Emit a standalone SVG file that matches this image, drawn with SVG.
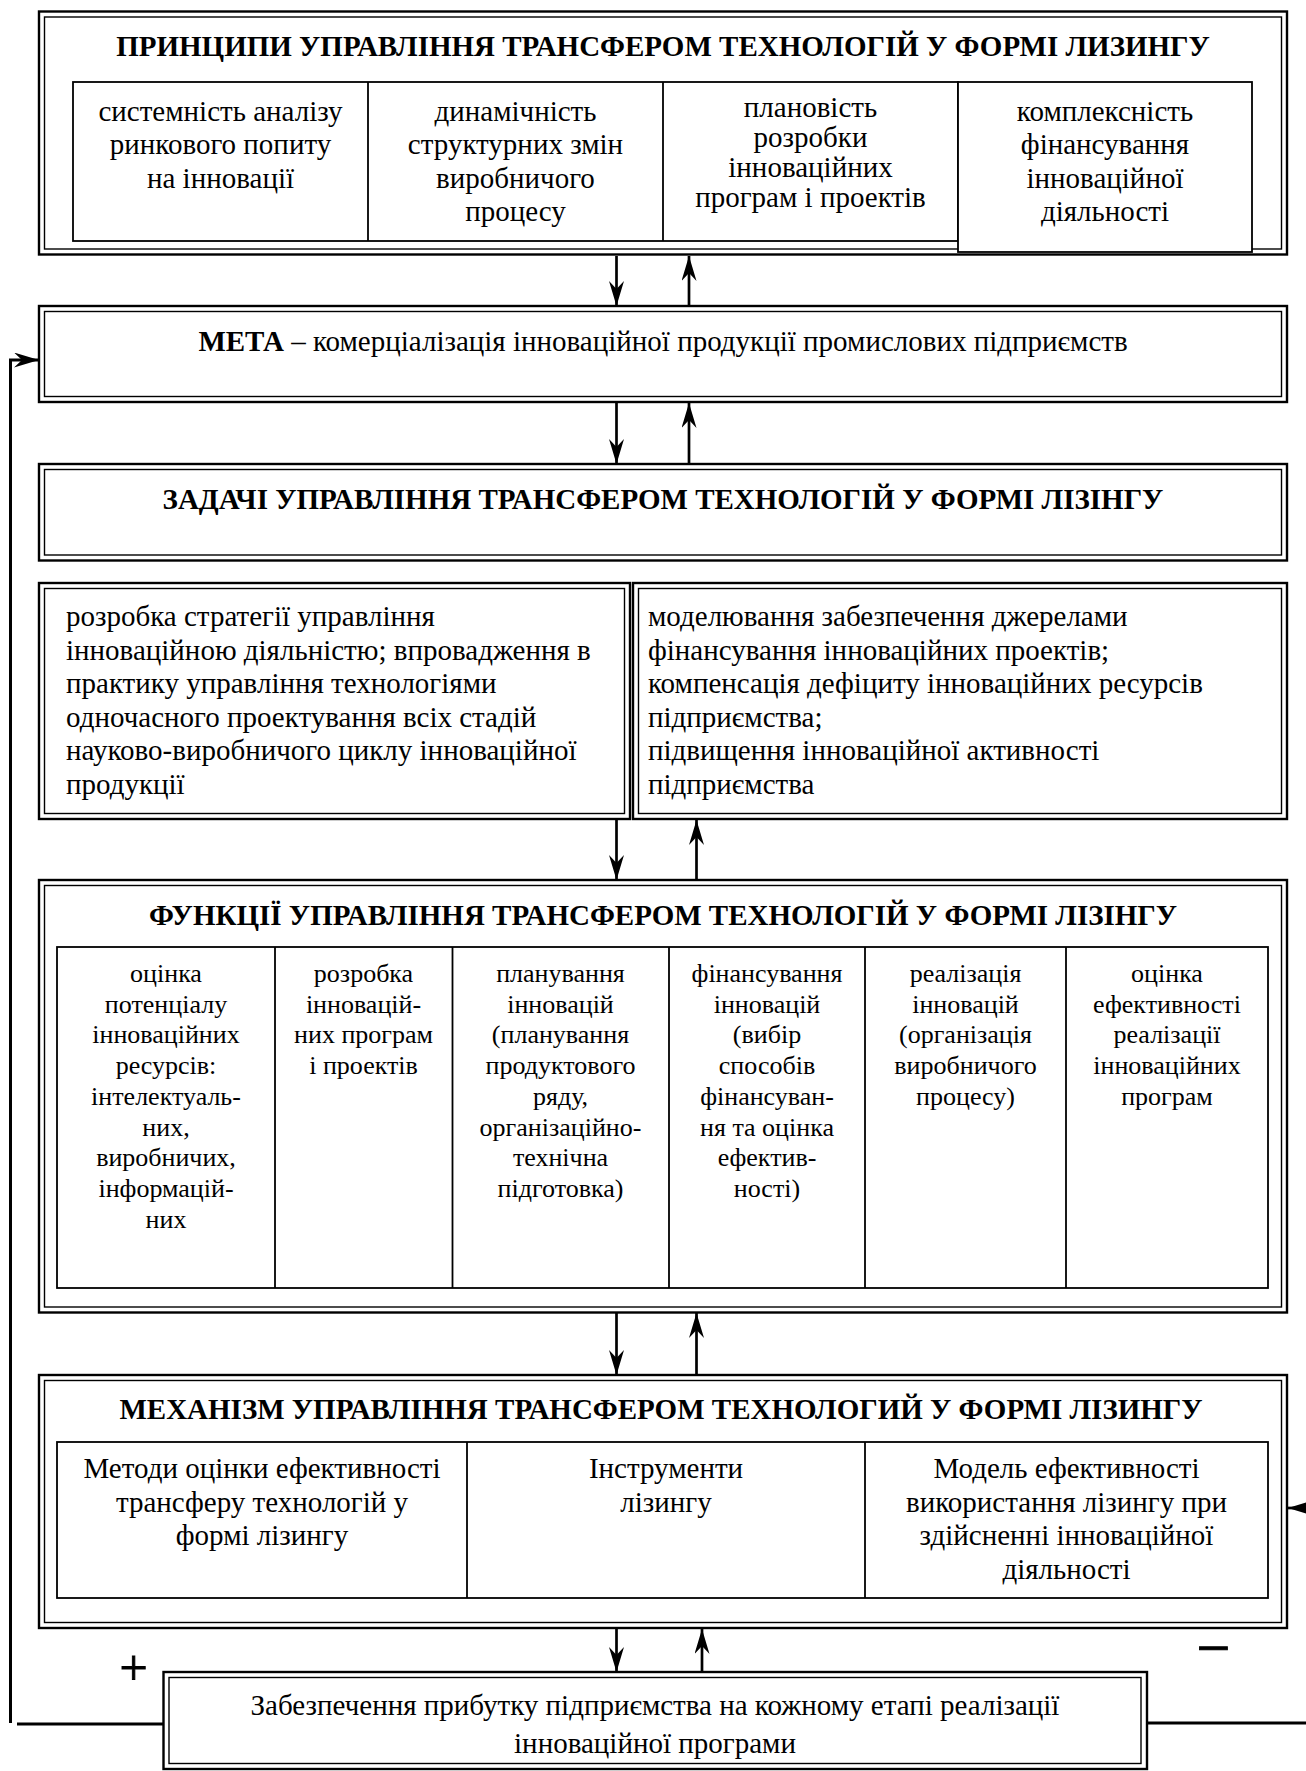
<svg xmlns="http://www.w3.org/2000/svg" width="1306" height="1771" viewBox="0 0 1306 1771">
<style>
.t{font-family:"Liberation Serif","Times New Roman",serif;font-size:29px;fill:#000}
.b{font-weight:bold}
.c{text-anchor:middle}
.s{font-size:26px}
.o{fill:#fff;stroke:#000;stroke-width:2.4}
.i{fill:none;stroke:#000;stroke-width:1.4}
.cell{fill:none;stroke:#000;stroke-width:1.8}
.cellw{fill:#fff;stroke:#000;stroke-width:1.8}
.ln{stroke:#000;stroke-width:1.8}
.con{stroke:#000;stroke-width:2.7;fill:none}
.sign{stroke:#000;stroke-width:0.9}
</style>
<defs>
<marker id="ah" viewBox="0 0 25 15" refX="25" refY="7.5" markerWidth="25" markerHeight="15" markerUnits="userSpaceOnUse" orient="auto">
<path d="M0,0 L25,7.5 L0,15 L8,7.5 Z" fill="#000"/>
</marker>
</defs>
<rect width="1306" height="1771" fill="#fff"/>

<g id="connectors">
<line class="con" x1="616.5" y1="256" x2="616.5" y2="306" marker-end="url(#ah)"/>
<line class="con" x1="689" y1="306" x2="689" y2="256" marker-end="url(#ah)"/>
<line class="con" x1="616.5" y1="403" x2="616.5" y2="464" marker-end="url(#ah)"/>
<line class="con" x1="689" y1="464" x2="689" y2="403" marker-end="url(#ah)"/>
<line class="con" x1="616.5" y1="820" x2="616.5" y2="880" marker-end="url(#ah)"/>
<line class="con" x1="696.5" y1="880" x2="696.5" y2="820" marker-end="url(#ah)"/>
<line class="con" x1="616.5" y1="1313" x2="616.5" y2="1375" marker-end="url(#ah)"/>
<line class="con" x1="696.5" y1="1375" x2="696.5" y2="1313" marker-end="url(#ah)"/>
<line class="con" x1="616.5" y1="1629" x2="616.5" y2="1672" marker-end="url(#ah)"/>
<line class="con" x1="702" y1="1672" x2="702" y2="1629" marker-end="url(#ah)"/>
<polyline class="con" style="stroke-width:3" points="10.5,1723 10.5,360 39,360" marker-end="url(#ah)"/>
<line class="con" style="stroke-width:3" x1="17" y1="1724" x2="163.5" y2="1724"/>
<line class="con" style="stroke-width:3" x1="1147" y1="1723" x2="1306" y2="1723"/>
<line class="con" x1="1306" y1="1508" x2="1288" y2="1508" marker-end="url(#ah)"/>
<text class="t sign" x="133.5" y="1684.5" text-anchor="middle" style="font-size:50px">+</text>
<text class="t sign" x="1213.5" y="1668" text-anchor="middle" style="font-size:60px">−</text>
</g>

<g id="principles">
<rect class="o" x="39" y="11.5" width="1248" height="243"/>
<rect class="i" x="44.5" y="17" width="1237" height="232"/>
<text class="t b c" x="663" y="56">ПРИНЦИПИ УПРАВЛІННЯ ТРАНСФЕРОМ ТЕХНОЛОГІЙ У ФОРМІ ЛИЗИНГУ</text>
<rect class="cell" x="73" y="82" width="885" height="159"/>
<line class="ln" x1="368" y1="82" x2="368" y2="241"/>
<line class="ln" x1="663" y1="82" x2="663" y2="241"/>
<rect class="cellw" x="958" y="82" width="294" height="170"/>
<text class="t c" x="220.5" y="120.5">системність аналізу</text>
<text class="t c" x="220.5" y="154">ринкового попиту</text>
<text class="t c" x="220.5" y="187.5">на інновації</text>
<text class="t c" x="515.5" y="120.5">динамічність</text>
<text class="t c" x="515.5" y="154">структурних змін</text>
<text class="t c" x="515.5" y="187.5">виробничого</text>
<text class="t c" x="515.5" y="221">процесу</text>
<text class="t c" x="810.5" y="116.5">плановість</text>
<text class="t c" x="810.5" y="146.5">розробки</text>
<text class="t c" x="810.5" y="176.5">інноваційних</text>
<text class="t c" x="810.5" y="206.5">програм і проектів</text>
<text class="t c" x="1105" y="120.5">комплексність</text>
<text class="t c" x="1105" y="154">фінансування</text>
<text class="t c" x="1105" y="187.5">інноваційної</text>
<text class="t c" x="1105" y="221">діяльності</text>
</g>

<g id="goal">
<rect class="o" x="39" y="306" width="1248" height="96"/>
<rect class="i" x="44.5" y="311.5" width="1237" height="85"/>
<text class="t c" x="663" y="351"><tspan class="b">МЕТА</tspan> – комерціалізація інноваційної продукції промислових підприємств</text>
</g>

<g id="tasks">
<rect class="o" x="39" y="464" width="1248" height="96.5"/>
<rect class="i" x="44.5" y="469.5" width="1237" height="85.5"/>
<text class="t b c" x="663" y="509">ЗАДАЧІ УПРАВЛІННЯ ТРАНСФЕРОМ ТЕХНОЛОГІЙ У ФОРМІ ЛІЗІНГУ</text>
</g>

<g id="tasks-left">
<rect class="o" x="39" y="583" width="591" height="236"/>
<rect class="i" x="44.5" y="588.5" width="580" height="225"/>
<text class="t" x="66" y="626">розробка стратегії управління</text>
<text class="t" x="66" y="659.5">інноваційною діяльністю; впровадження в</text>
<text class="t" x="66" y="693">практику управління технологіями</text>
<text class="t" x="66" y="726.5">одночасного проектування всіх стадій</text>
<text class="t" x="66" y="760">науково-виробничого циклу інноваційної</text>
<text class="t" x="66" y="793.5">продукції</text>
</g>

<g id="tasks-right">
<rect class="o" x="633" y="583" width="654" height="236"/>
<rect class="i" x="638.5" y="588.5" width="643" height="225"/>
<text class="t" x="648" y="626">моделювання забезпечення джерелами</text>
<text class="t" x="648" y="659.5">фінансування інноваційних проектів;</text>
<text class="t" x="648" y="693">компенсація дефіциту інноваційних ресурсів</text>
<text class="t" x="648" y="726.5">підприємства;</text>
<text class="t" x="648" y="760">підвищення інноваційної активності</text>
<text class="t" x="648" y="793.5">підприємства</text>
</g>

<g id="functions">
<rect class="o" x="39" y="880" width="1248" height="432.5"/>
<rect class="i" x="44.5" y="885.5" width="1237" height="421.5"/>
<text class="t b c" x="663" y="925">ФУНКЦІЇ УПРАВЛІННЯ ТРАНСФЕРОМ ТЕХНОЛОГІЙ У ФОРМІ ЛІЗІНГУ</text>
<rect class="cell" x="57" y="947" width="1211" height="341"/>
<line class="ln" x1="275" y1="947" x2="275" y2="1288"/>
<line class="ln" x1="452.5" y1="947" x2="452.5" y2="1288"/>
<line class="ln" x1="669" y1="947" x2="669" y2="1288"/>
<line class="ln" x1="865" y1="947" x2="865" y2="1288"/>
<line class="ln" x1="1066" y1="947" x2="1066" y2="1288"/>
<text class="t s c" x="166" y="982">оцінка</text>
<text class="t s c" x="166" y="1012.7">потенціалу</text>
<text class="t s c" x="166" y="1043.4">інноваційних</text>
<text class="t s c" x="166" y="1074.1">ресурсів:</text>
<text class="t s c" x="166" y="1104.8">інтелектуаль-</text>
<text class="t s c" x="166" y="1135.5">них,</text>
<text class="t s c" x="166" y="1166.2">виробничих,</text>
<text class="t s c" x="166" y="1196.9">інформацій-</text>
<text class="t s c" x="166" y="1227.6">них</text>
<text class="t s c" x="363.5" y="982">розробка</text>
<text class="t s c" x="363.5" y="1012.7">інновацій-</text>
<text class="t s c" x="363.5" y="1043.4">них програм</text>
<text class="t s c" x="363.5" y="1074.1">і проектів</text>
<text class="t s c" x="560.5" y="982">планування</text>
<text class="t s c" x="560.5" y="1012.7">інновацій</text>
<text class="t s c" x="560.5" y="1043.4">(планування</text>
<text class="t s c" x="560.5" y="1074.1">продуктового</text>
<text class="t s c" x="560.5" y="1104.8">ряду,</text>
<text class="t s c" x="560.5" y="1135.5">організаційно-</text>
<text class="t s c" x="560.5" y="1166.2">технічна</text>
<text class="t s c" x="560.5" y="1196.9">підготовка)</text>
<text class="t s c" x="767" y="982">фінансування</text>
<text class="t s c" x="767" y="1012.7">інновацій</text>
<text class="t s c" x="767" y="1043.4">(вибір</text>
<text class="t s c" x="767" y="1074.1">способів</text>
<text class="t s c" x="767" y="1104.8">фінансуван-</text>
<text class="t s c" x="767" y="1135.5">ня та оцінка</text>
<text class="t s c" x="767" y="1166.2">ефектив-</text>
<text class="t s c" x="767" y="1196.9">ності)</text>
<text class="t s c" x="965.5" y="982">реалізація</text>
<text class="t s c" x="965.5" y="1012.7">інновацій</text>
<text class="t s c" x="965.5" y="1043.4">(організація</text>
<text class="t s c" x="965.5" y="1074.1">виробничого</text>
<text class="t s c" x="965.5" y="1104.8">процесу)</text>
<text class="t s c" x="1167" y="982">оцінка</text>
<text class="t s c" x="1167" y="1012.7">ефективності</text>
<text class="t s c" x="1167" y="1043.4">реалізації</text>
<text class="t s c" x="1167" y="1074.1">інноваційних</text>
<text class="t s c" x="1167" y="1104.8">програм</text>
</g>

<g id="mechanism">
<rect class="o" x="39" y="1375" width="1248" height="253"/>
<rect class="i" x="44.5" y="1380.5" width="1237" height="242"/>
<text class="t b c" x="661" y="1419">МЕХАНІЗМ УПРАВЛІННЯ ТРАНСФЕРОМ ТЕХНОЛОГИЙ У ФОРМІ ЛІЗИНГУ</text>
<rect class="cell" x="57" y="1442" width="1211" height="156"/>
<line class="ln" x1="467" y1="1442" x2="467" y2="1598"/>
<line class="ln" x1="865" y1="1442" x2="865" y2="1598"/>
<text class="t c" x="262" y="1478">Методи оцінки ефективності</text>
<text class="t c" x="262" y="1511.5">трансферу технологій у</text>
<text class="t c" x="262" y="1545">формі лізингу</text>
<text class="t c" x="666" y="1478">Інструменти</text>
<text class="t c" x="666" y="1511.5">лізингу</text>
<text class="t c" x="1066.5" y="1478">Модель ефективності</text>
<text class="t c" x="1066.5" y="1511.5">використання лізингу при</text>
<text class="t c" x="1066.5" y="1545">здійсненні інноваційної</text>
<text class="t c" x="1066.5" y="1578.5">діяльності</text>
</g>

<g id="profit">
<rect class="o" x="163.5" y="1672" width="983.5" height="97"/>
<rect class="i" x="169" y="1677.5" width="972" height="86"/>
<text class="t c" x="655" y="1715">Забезпечення прибутку підприємства на кожному етапі реалізації</text>
<text class="t c" x="655" y="1753">інноваційної програми</text>
</g>
</svg>
